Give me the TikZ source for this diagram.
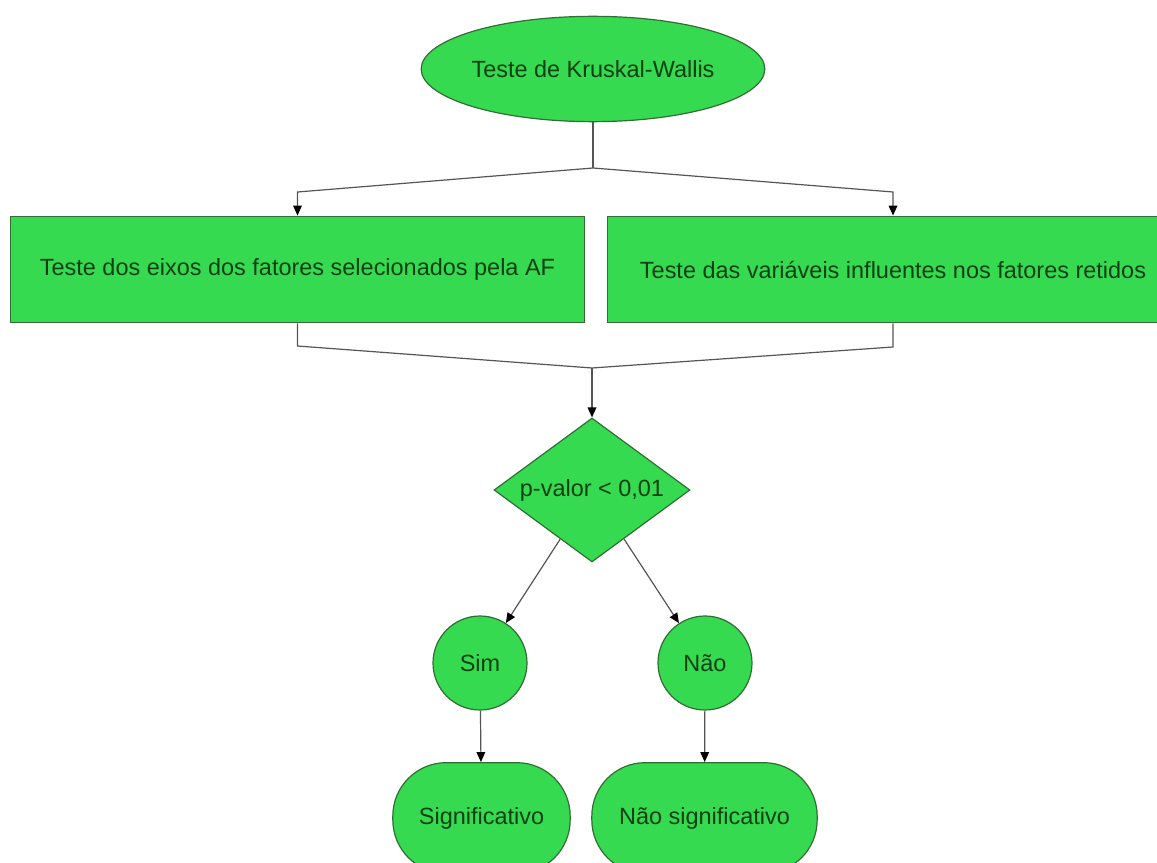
\documentclass[tikz,border=0pt]{standalone}
\usepackage{fontspec}
\setmainfont{Liberation Sans}
\usetikzlibrary{shapes.geometric,arrows.meta}
\definecolor{boxfill}{RGB}{54,218,80}
\definecolor{boxline}{RGB}{48,110,52}
\definecolor{boxtext}{RGB}{12,64,18}
\definecolor{conn}{RGB}{85,85,85}
\tikzset{
  shp/.style={draw=boxline, fill=boxfill, line width=0.9pt, text=boxtext, inner sep=0pt,
              font=\fontsize{17.6}{21}\selectfont},
  conline/.style={draw=conn, line width=0.9pt},
  arr/.style={conline, -{Triangle[length=7.5pt,width=6.5pt,color=black]}},
}
\begin{document}
\begin{tikzpicture}[x=0.75pt,y=-0.75pt]
\useasboundingbox (0,0) rectangle (1157,863);
\clip (0,0) rectangle (1157,863);
% nodes
\node[shp, ellipse, minimum width=225pt, minimum height=79pt] (ks) at (593,69) {Teste de Kruskal-Wallis};
\node[shp, rectangle, minimum width=431pt, minimum height=80pt] (b1) at (297.5,269.5) {Teste dos eixos dos fatores selecionados pela AF};
\node[shp, rectangle, minimum width=428pt, minimum height=80pt] (b2) at (893,269.5) {Teste das variáveis influentes nos fatores retidos};
\node[shp, diamond, shape aspect=1.36, minimum width=147pt, minimum height=108pt] (dia) at (592,490) {p-valor < 0,01};
\node[shp, circle, minimum size=70.5pt] (sim) at (480,663) {Sim};
\node[shp, circle, minimum size=70.5pt] (nao) at (705,663) {Não};
\node[shp, rectangle, rounded corners=40pt, minimum width=133pt, minimum height=83pt] (sig) at (481.5,818) {Significativo};
\node[shp, rectangle, rounded corners=40pt, minimum width=169pt, minimum height=83pt] (nsig) at (704.5,818) {Não significativo};
% junction coordinates
\coordinate (j1) at (593,168);
\coordinate (c1) at (297.5,192);
\coordinate (c2) at (893,192);
\coordinate (d1) at (297.5,346);
\coordinate (d2) at (893,347);
\coordinate (j2) at (592,368);
% connectors
\draw[conline] (ks.south) -- (j1);
\draw[arr] (j1) -- (c1) -- (b1.north);
\draw[arr] (j1) -- (c2) -- (b2.north);
\draw[conline] (b1.south) -- (d1) -- (j2);
\draw[conline] (b2.south) -- (d2) -- (j2);
\draw[arr] (j2) -- (dia.north);
\draw[arr] (dia) -- (sim);
\draw[arr] (dia) -- (nao);
\draw[arr] (sim) -- (sig);
\draw[arr] (nao) -- (nsig);
\end{tikzpicture}
\end{document}
